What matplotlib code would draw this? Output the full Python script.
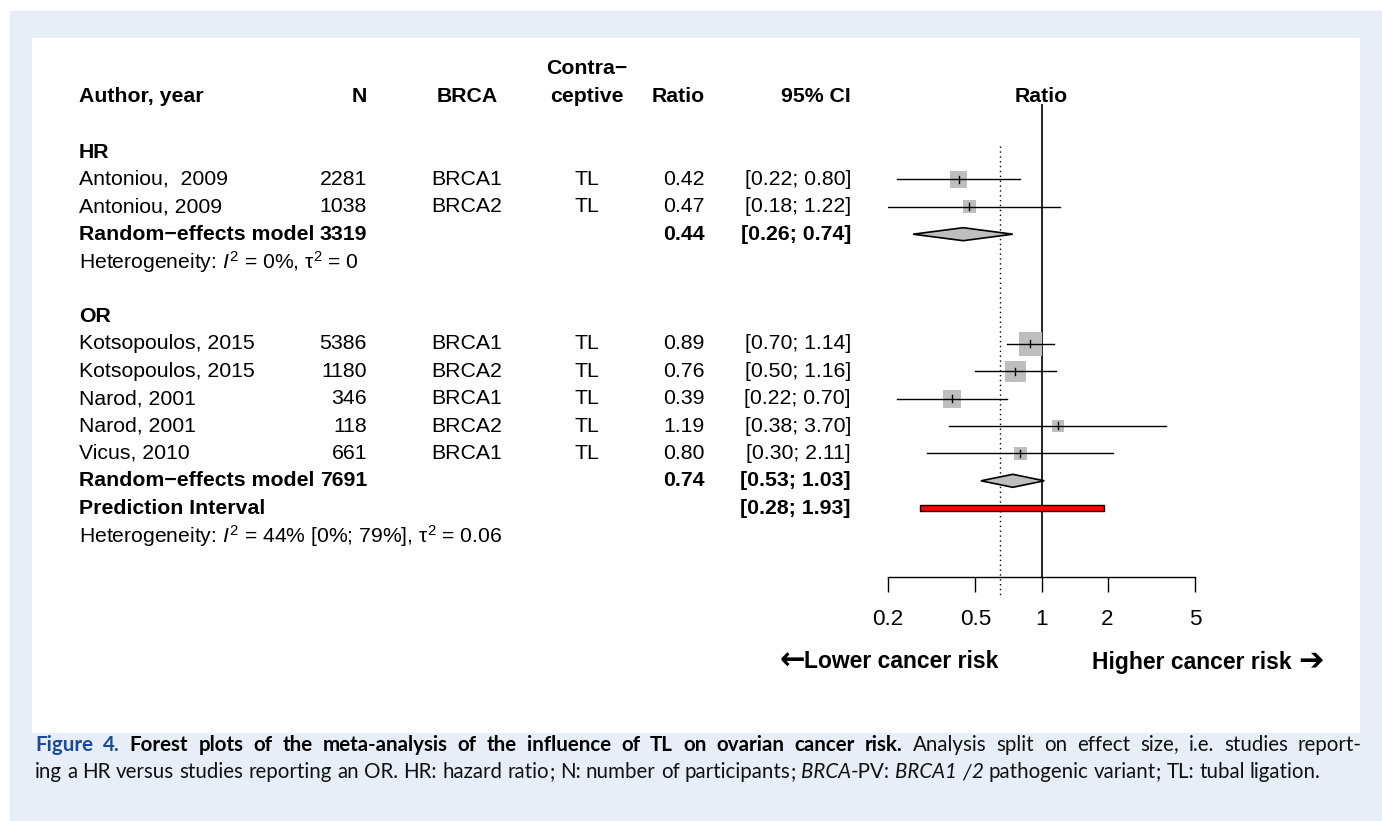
import matplotlib
matplotlib.use("Agg")
import matplotlib.pyplot as plt
from matplotlib.patches import Rectangle, Polygon
from matplotlib.ticker import FixedLocator, FixedFormatter, NullLocator

plt.rcParams['font.family'] = ['Liberation Sans', 'DejaVu Sans']
plt.rcParams['mathtext.fontset'] = 'custom'
plt.rcParams['mathtext.rm'] = 'Liberation Sans'
plt.rcParams['mathtext.it'] = 'Liberation Sans:italic'
plt.rcParams['mathtext.bf'] = 'Liberation Sans:bold'

# ---- data -------------------------------------------------------------
hr_authors = ["Antoniou,  2009", "Antoniou, 2009"]
hr_n = [2281, 1038]
hr_gene = ["BRCA1", "BRCA2"]
hr_contra = ["TL", "TL"]
hr_ratio = [0.42, 0.47]
hr_lower = [0.22, 0.18]
hr_upper = [0.80, 1.22]
hr_weight = [2.8, 1.7]
hr_pooled_n = 3319
hr_pooled = [0.44, 0.26, 0.74]
hr_het = r"Heterogeneity: $I^2$ = 0%, $\mathrm{\tau}^2$ = 0"

or_authors = ["Kotsopoulos, 2015", "Kotsopoulos, 2015", "Narod, 2001",
              "Narod, 2001", "Vicus, 2010"]
or_n = [5386, 1180, 346, 118, 661]
or_gene = ["BRCA1", "BRCA2", "BRCA1", "BRCA2", "BRCA1"]
or_contra = ["TL", "TL", "TL", "TL", "TL"]
or_ratio = [0.89, 0.76, 0.39, 1.19, 0.80]
or_lower = [0.70, 0.50, 0.22, 0.38, 0.30]
or_upper = [1.14, 1.16, 0.70, 3.70, 2.11]
or_weight = [5.6, 4.3, 3.2, 1.4, 1.7]
or_pooled_n = 7691
or_pooled = [0.74, 0.53, 1.03]
or_prediction = [0.28, 1.93]
or_het = r"Heterogeneity: $I^2$ = 44% [0%; 79%], $\mathrm{\tau}^2$ = 0.06"

overall_ratio = 0.65
axis_ticks = [0.2, 0.5, 1, 2, 5]
axis_labels = ["0.2", "0.5", "1", "2", "5"]

# ---- figure / panels --------------------------------------------------
W, H = 1382, 821
fig = plt.figure(figsize=(W / 100, H / 100), dpi=100)
fig.patch.set_facecolor("white")

bg = fig.add_axes([0, 0, 1, 1])
bg.set_xlim(0, W)
bg.set_ylim(H, 0)
bg.axis("off")
bg.add_patch(Rectangle((10, 11), W - 10, H - 11, facecolor="#E7EEF8", edgecolor="none"))
bg.add_patch(Rectangle((32, 38), 1328, 695, facecolor="white", edgecolor="none"))
renderer = fig.canvas.get_renderer()

FS = 15.3
FS_HET = 15.2
FS_AXIS = 16.2
FS_DIR = 16.5
ROW0, DY = 152, 27.4


def row_y(i):
    return ROW0 + i * DY


X_AUTH, X_N, X_GENE, X_CONTRA, X_RATIO, X_CI = 79, 367, 467, 587, 705, 851

# headers
hdr = dict(fontsize=FS, fontweight="bold", va="center")
bg.text(X_AUTH, 96, "Author, year", ha="left", **hdr)
bg.text(X_N, 96, "N", ha="right", **hdr)
bg.text(X_GENE, 96, "BRCA", ha="center", **hdr)
bg.text(X_CONTRA, 69, "Contra\u2212", ha="center", **hdr)
bg.text(X_CONTRA, 96, "ceptive", ha="center", **hdr)
bg.text(X_RATIO, 96, "Ratio", ha="right", **hdr)
bg.text(X_CI, 96, "95% CI", ha="right", **hdr)

# forest panel
ax = fig.add_axes([888 / W, 0, 307 / W, 1])
ax.set_xscale("log")
ax.set_xlim(0.2, 5)
ax.set_ylim(H, 0)
ax.patch.set_alpha(0)
for s in ["top", "left", "right"]:
    ax.spines[s].set_visible(False)
ax.spines["bottom"].set_position(("data", 577))
ax.spines["bottom"].set_linewidth(1.0)
ax.xaxis.set_major_locator(FixedLocator(axis_ticks))
ax.xaxis.set_major_formatter(FixedFormatter(axis_labels))
ax.xaxis.set_minor_locator(NullLocator())
ax.tick_params(axis="x", direction="out", length=11, width=1.0,
               labelsize=FS_AXIS, pad=12)
ax.set_yticks([])
ax.text(1, 96, "Ratio", ha="center", va="center", fontsize=FS, fontweight="bold")

ax.plot([1, 1], [104, 577], color="black", lw=1.2, solid_capstyle="butt")
ax.plot([overall_ratio, overall_ratio], [146, 597], color="black", lw=1.0,
        ls=(0, (1, 2.5)))


def study_row(i, author, n, gene, contra, r, lo, hi, w):
    y = row_y(i)
    bg.text(X_AUTH, y, author, ha="left", va="center", fontsize=FS)
    bg.text(X_N, y, f"{n}", ha="right", va="center", fontsize=FS)
    bg.text(X_GENE, y, gene, ha="center", va="center", fontsize=FS)
    bg.text(X_CONTRA, y, contra, ha="center", va="center", fontsize=FS)
    bg.text(X_RATIO, y, f"{r:.2f}", ha="right", va="center", fontsize=FS)
    bg.text(X_CI, y, f"[{lo:.2f}; {hi:.2f}]", ha="right", va="center", fontsize=FS)
    side_pt = 10 * w ** 0.5 * 0.72
    ax.scatter([r], [y], s=side_pt ** 2, marker="s", color="#BEBEBE",
               edgecolors="none", zorder=2)
    ax.plot([lo, hi], [y, y], color="black", lw=1.0, zorder=3)
    ax.plot([r, r], [y - 3.5, y + 3.5], color="black", lw=1.0, zorder=3)


def pooled_row(i, n, est, lo, hi):
    y = row_y(i)
    b = dict(fontsize=FS, fontweight="bold", va="center")
    bg.text(X_AUTH, y, "Random\u2212effects model", ha="left", **b)
    bg.text(X_N, y, f"{n}", ha="right", **b)
    bg.text(X_RATIO, y, f"{est:.2f}", ha="right", **b)
    bg.text(X_CI, y, f"[{lo:.2f}; {hi:.2f}]", ha="right", **b)
    ax.add_patch(Polygon([(lo, y), (est, y - 6.5), (hi, y), (est, y + 6.5)],
                         closed=True, facecolor="#BEBEBE", edgecolor="black",
                         lw=1.2, zorder=3))


# HR subgroup
bg.text(X_AUTH, row_y(0), "HR", ha="left", va="center", fontsize=FS, fontweight="bold")
for k in range(len(hr_authors)):
    study_row(1 + k, hr_authors[k], hr_n[k], hr_gene[k], hr_contra[k],
              hr_ratio[k], hr_lower[k], hr_upper[k], hr_weight[k])
pooled_row(3, hr_pooled_n, *hr_pooled)
bg.text(X_AUTH, row_y(4), hr_het, ha="left", va="center", fontsize=FS_HET)

# OR subgroup
bg.text(X_AUTH, row_y(6), "OR", ha="left", va="center", fontsize=FS, fontweight="bold")
for k in range(len(or_authors)):
    study_row(7 + k, or_authors[k], or_n[k], or_gene[k], or_contra[k],
              or_ratio[k], or_lower[k], or_upper[k], or_weight[k])
pooled_row(12, or_pooled_n, *or_pooled)
y_pi = row_y(13)
bg.text(X_AUTH, y_pi, "Prediction Interval", ha="left", va="center",
        fontsize=FS, fontweight="bold")
bg.text(X_CI, y_pi, f"[{or_prediction[0]:.2f}; {or_prediction[1]:.2f}]",
        ha="right", va="center", fontsize=FS, fontweight="bold")
ax.add_patch(Polygon([(or_prediction[0], y_pi - 2.7), (or_prediction[1], y_pi - 2.7),
                      (or_prediction[1], y_pi + 2.7), (or_prediction[0], y_pi + 2.7)],
                     closed=True, facecolor="red", edgecolor="black", lw=1.0, zorder=3))
bg.text(X_AUTH, row_y(14), or_het, ha="left", va="center", fontsize=FS_HET)

# direction labels with heavy arrows
Y_DIR = 662
ARROW = dict(va="center", fontsize=22, fontweight="bold", family=["DejaVu Sans"])
t_left = bg.text(998, Y_DIR, "Lower cancer risk", ha="right", va="center",
                 fontsize=FS_DIR, fontweight="bold")
lx = t_left.get_window_extent(renderer=renderer).x0
bg.text(lx + 1, Y_DIR - 1, "\u2190", ha="right", **ARROW)
t_right = bg.text(1092, Y_DIR, "Higher cancer risk ", ha="left", va="center",
                  fontsize=FS_DIR, fontweight="bold")
rx = t_right.get_window_extent(renderer=renderer).x1
bg.text(rx, Y_DIR - 1, "\u2794", ha="left", **ARROW)

# ---- caption ----------------------------------------------------------
CAP_FS = 14.8
CAP_FONT = "Lato"
BLUE = "#1B4A9B"
INK = "#111111"
CAP_X0, CAP_X1 = 35, 1362


def split_word(wd):
    """Split off trailing , ; and a leading / so each piece keeps the
    shared baseline."""
    pieces = []
    if len(wd) > 1 and wd[0] == "/":
        pieces.append(("/", True))
        wd = wd[1:]
    tail = None
    if len(wd) > 1 and wd[-1] in ",;":
        tail = wd[-1]
        wd = wd[:-1]
    pieces.append((wd, bool(pieces)))
    if tail:
        pieces.append((tail, True))
    return pieces


def caption_line(y, parts, justify):
    """Place styled runs word by word on a shared baseline; justified lines
    fill CAP_X0..CAP_X1."""
    tokens = []
    for text, color, weight, style in parts:
        words = text.split(" ")
        for j, wd in enumerate(words):
            if j > 0:
                tokens.append(None)
            if not wd:
                continue
            for piece, _ in split_word(wd):
                tokens.append((piece, color, weight, style))
    cleaned = []
    for tk in tokens:
        if tk is None and (not cleaned or cleaned[-1] is None):
            continue
        cleaned.append(tk)
    while cleaned and cleaned[-1] is None:
        cleaned.pop()
    arts, widths = [], []
    for tk in cleaned:
        if tk is None:
            continue
        wd, color, weight, style = tk
        t = bg.text(0, y, wd, ha="left", va="baseline", fontsize=CAP_FS,
                    family=CAP_FONT, color=color, fontweight=weight, fontstyle=style)
        arts.append(t)
        widths.append(t.get_window_extent(renderer=renderer).width)
    probe = bg.text(0, y, "a a", fontsize=CAP_FS, family=CAP_FONT)
    probe2 = bg.text(0, y, "aa", fontsize=CAP_FS, family=CAP_FONT)
    space = (probe.get_window_extent(renderer=renderer).width
             - probe2.get_window_extent(renderer=renderer).width)
    probe.remove()
    probe2.remove()
    n_gaps = sum(1 for tk in cleaned if tk is None)
    gap = space
    if justify and n_gaps:
        gap = (CAP_X1 - CAP_X0 - sum(widths)) / n_gaps
    x = CAP_X0
    k = 0
    for tk in cleaned:
        if tk is None:
            x += gap
            continue
        arts[k].set_x(x)
        x += widths[k]
        k += 1


caption_line(751, [
    ("Figure 4. ", BLUE, "bold", "normal"),
    ("Forest plots of the meta-analysis of the influence of TL on ovarian cancer risk.",
     "black", "bold", "normal"),
    (" Analysis split on effect size, i.e. studies report-", INK, "normal", "normal"),
], justify=True)
caption_line(778, [
    ("ing a HR versus studies reporting an OR. HR: hazard ratio; N: number of participants; ",
     INK, "normal", "normal"),
    ("BRCA", INK, "normal", "italic"),
    ("-PV: ", INK, "normal", "normal"),
    ("BRCA1 /2", INK, "normal", "italic"),
    (" pathogenic variant; TL: tubal ligation.", INK, "normal", "normal"),
], justify=False)

fig.savefig("out.png", dpi=100)
